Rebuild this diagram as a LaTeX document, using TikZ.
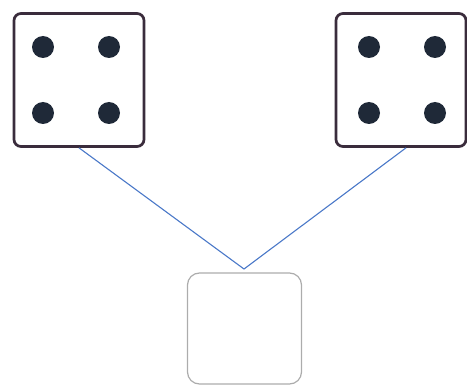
\documentclass[tikz,border=0pt]{standalone}
\begin{document}
\begin{tikzpicture}[x=1pt,y=-1pt,
  diebox/.style={draw=diebord, line width=2.7pt, fill=white, rounded corners=7pt, minimum width=130pt, minimum height=133pt, inner sep=0pt},
  pip/.style={circle, fill=pipcol, minimum size=22pt, inner sep=0pt},
  ansbox/.style={draw=gray!65, line width=1.2pt, rounded corners=12pt, minimum width=114pt, minimum height=111pt, inner sep=0pt},
  link/.style={draw=linkblue, line width=1.1pt}]
\definecolor{diebord}{HTML}{3A2C3C}
\definecolor{pipcol}{HTML}{1F2938}
\definecolor{linkblue}{HTML}{4A78C8}
\useasboundingbox (0,0) rectangle (467,385);
\node[diebox] (die1) at (79,80) {};
\node[diebox] (die2) at (401,80) {};
\node[pip] (p11) at (43,47) {};
\node[pip] (p12) at (109,47) {};
\node[pip] (p13) at (43,113) {};
\node[pip] (p14) at (109,113) {};
\node[pip] (p21) at (369,47) {};
\node[pip] (p22) at (435,47) {};
\node[pip] (p23) at (369,113) {};
\node[pip] (p24) at (435,113) {};
\node[ansbox] (box) at (244.5,328.5) {};
\coordinate (apex) at (244,269);
\draw[link] (die1.south) -- (apex) -- ([xshift=5pt]die2.south);
\end{tikzpicture}
\end{document}
